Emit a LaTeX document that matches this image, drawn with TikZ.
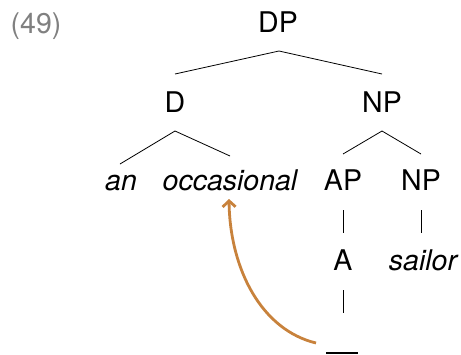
\documentclass[tikz,border=0pt]{standalone}
\usepackage{fontspec}
\setmainfont{TeX Gyre Heros}
\usetikzlibrary{arrows.meta}
\definecolor{movecol}{RGB}{200,130,60}
\begin{document}
\begin{tikzpicture}[x=1pt,y=-1pt,
  lab/.style={anchor=base,inner sep=0pt,font=\fontsize{28.5}{32}\selectfont},
  word/.style={lab,font=\fontsize{28.5}{32}\selectfont\itshape},
  branch/.style={line width=0.8pt,black},
  movearrow/.style={line width=2.8pt,movecol,-{Straight Barb[length=6pt,width=13pt,line width=2.8pt]}}]
\useasboundingbox (0,0) rectangle (461,354);
% example number
\node[lab,text=black!50] (num) at (36,33) {(49)};
% tree labels
\node[lab] (dp) at (278,32) {DP};
\node[lab] (d) at (175,112) {D};
\node[lab] (np) at (382,112) {NP};
\node[word] (an) at (121,190) {an};
\node[word] (occ) at (230,190) {occasional};
\node[lab] (ap) at (343,190) {AP};
\node[lab] (np2) at (421,190) {NP};
\node[lab] (a) at (343,270) {A};
\node[word] (sailor) at (423,270) {sailor};
% branch endpoints
\coordinate (dptop) at (279,51);
\coordinate (dl) at (175,74);
\coordinate (dr) at (382,74);
\coordinate (dapex) at (175,131);
\coordinate (anend) at (120,164);
\coordinate (occend) at (230,156);
\coordinate (npapex) at (382,131);
\coordinate (apend) at (343,154);
\coordinate (npend) at (421,154);
\coordinate (aptop) at (343,210);
\coordinate (apbot) at (343,233);
\coordinate (nptop) at (421,210);
\coordinate (npbot) at (421,233);
\coordinate (atop) at (343,290);
\coordinate (abot) at (343,313);
\coordinate (tl) at (326,353);
\coordinate (tr) at (358,353);
\coordinate (mvstart) at (316,343);
\coordinate (mvend) at (229,199);
% branches
\draw[branch] (dl) -- (dptop) -- (dr);
\draw[branch] (anend) -- (dapex) -- (occend);
\draw[branch] (apend) -- (npapex) -- (npend);
\draw[branch] (aptop) -- (apbot);
\draw[branch] (nptop) -- (npbot);
\draw[branch] (atop) -- (abot);
% trace
\draw[line width=1.6pt] (tl) -- (tr);
% movement arrow
\draw[movearrow] (mvstart) .. controls (262,330) and (230,270) .. (mvend);
\end{tikzpicture}
\end{document}
